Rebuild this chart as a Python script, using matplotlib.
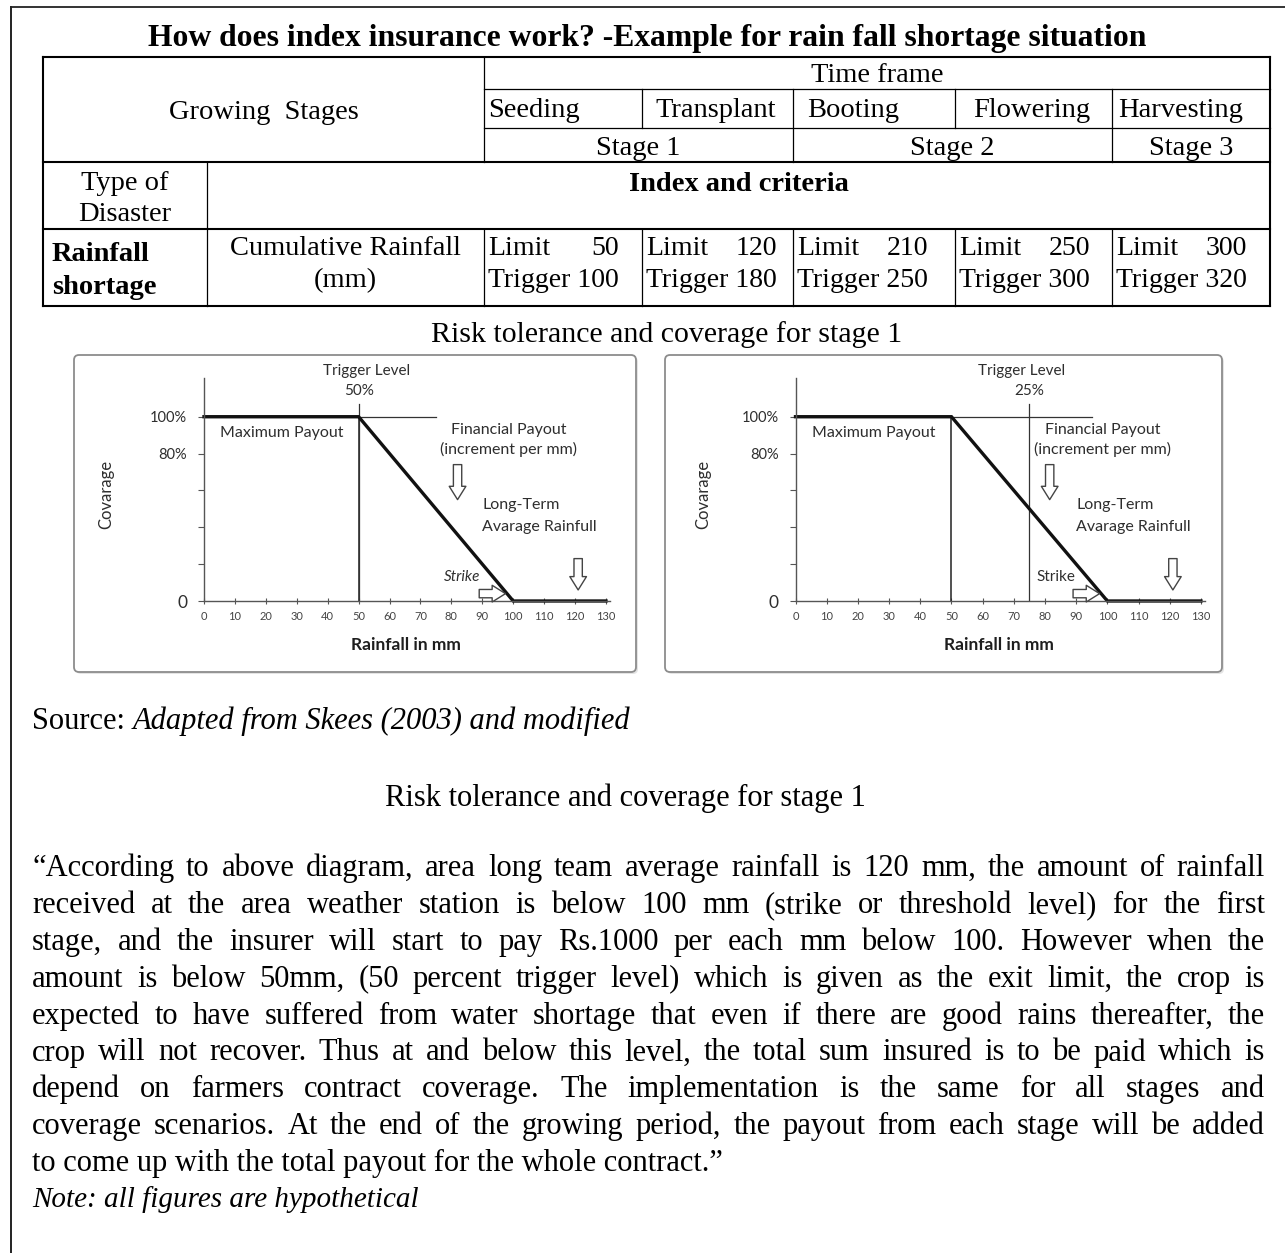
import matplotlib
matplotlib.use("Agg")
import matplotlib.pyplot as plt
from matplotlib.patches import FancyBboxPatch

W, H = 1285, 1253
SERIF = ["Liberation Serif", "DejaVu Serif"]
SANS = ["Lato", "DejaVu Sans"]

# ---- table content
title = "How does index insurance work? -Example for rain fall shortage situation"
stage_names = ["Seeding", "Transplant", "Booting", "Flowering", "Harvesting"]
stage_groups = ["Stage 1", "Stage 2", "Stage 3"]
group_cols = [(0, 2), (2, 4), (4, 5)]      # stage columns covered by each group
limits = [50, 120, 210, 250, 300]
triggers = [100, 180, 250, 300, 320]

# ---- chart content (rainfall in mm, coverage in %)
rain_mm = [0, 50, 100, 130]
coverage = [100, 100, 0, 0]
limit_mm = 50
trigger_mm = [50, 75]
trigger_label = ["50%", "25%"]
strike_mm = 100
long_term_mm = 121
x_ticks = list(range(0, 131, 10))
y_ticks = [0, 20, 40, 60, 80, 100]
y_ticklabels = ["0", "", "", "", "80%", "100%"]

paragraph = [
    "\u201cAccording to above diagram, area long team average rainfall is 120 mm, the amount of rainfall",
    "received at the area weather station is below 100 mm (strike or threshold level) for the first",
    "stage, and the insurer will start to pay Rs.1000 per each mm below 100. However when the",
    "amount is below 50mm, (50 percent trigger level) which is given as the exit limit, the crop is",
    "expected to have suffered from water shortage that even if there are good rains thereafter, the",
    "crop will not recover. Thus at and below this level, the total sum insured is to be paid which is",
    "depend on farmers contract coverage. The implementation is the same for all stages and",
    "coverage scenarios. At the end of the growing period, the payout from each stage will be added",
    "to come up with the total payout for the whole contract.\u201d",
]
note = "Note: all figures are hypothetical"

fig = plt.figure(figsize=(W / 100, H / 100), dpi=100)
page = fig.add_axes([0, 0, 1, 1])
page.set_xlim(0, W)
page.set_ylim(H, 0)
page.axis("off")
renderer = fig.canvas.get_renderer()


def line(x0, y0, x1, y1, lw=1.0, c="black"):
    page.plot([x0, x1], [y0, y1], color=c, lw=lw, solid_capstyle="projecting")


def txt(x, y, s, size=20.5, ha="center", **kw):
    # y is the visual middle of the line, text sits on its baseline
    return page.text(x, y + 9, s, ha=ha, va="baseline", fontsize=size,
                     family=SERIF, color="black", **kw)


def width(t):
    return t.get_window_extent(renderer).width


# page frame
line(11, 7, W, 7, lw=1.4, c="#333333")
line(11, 7, 11, H, lw=1.4, c="#222222")

txt(647, 37, title, size=22.8, weight="bold")

# ---- table grid
cols = [43, 207, 484, 642, 793, 955, 1112, 1270]
rows = [57, 89, 128, 162, 229, 306]
sc = cols[2:]
thick, thin = 1.5, 0.9
line(43, rows[0], 1270, rows[0], thick)
line(484, rows[1], 1270, rows[1], thin)
line(484, rows[2], 1270, rows[2], thin)
for r in rows[3:]:
    line(43, r, 1270, r, thick)
line(43, rows[0], 43, rows[5], thick)
line(1270, rows[0], 1270, rows[5], thick)
line(484, rows[0], 484, rows[3], thin)
line(207, rows[3], 207, rows[5], thin)
group_edges = [g[1] for g in group_cols]
for i in range(1, 5):
    bottom = rows[3] if i in group_edges else rows[2]
    line(sc[i], rows[1], sc[i], bottom, thin)
for x in cols[2:-1]:
    line(x, rows[4], x, rows[5], thin)

txt((cols[0] + cols[2]) / 2, 110, "Growing  Stages")
txt((sc[0] + sc[-1]) / 2, 73, "Time frame")
name_align = ["left", "center", "left", "center", "left"]
name_pad = [4, 0, 14, 0, 6]
for i, name in enumerate(stage_names):
    if name_align[i] == "left":
        txt(sc[i] + name_pad[i], 108, name, ha="left")
    else:
        txt((sc[i] + sc[i + 1]) / 2 - 2, 108, name)
for g, (a, b) in zip(stage_groups, group_cols):
    txt((sc[a] + sc[b]) / 2, 146, g)

txt((cols[0] + cols[1]) / 2, 181, "Type of")
txt((cols[0] + cols[1]) / 2, 212, "Disaster")
txt((cols[1] + cols[-1]) / 2, 182, "Index and criteria", weight="bold")
txt(cols[0] + 9, 252, "Rainfall", ha="left", weight="bold")
txt(cols[0] + 9, 285, "shortage", ha="left", weight="bold")
txt((cols[1] + cols[2]) / 2, 246, "Cumulative Rainfall")
txt((cols[1] + cols[2]) / 2, 278, "(mm)")
for i, (lim, trg) in enumerate(zip(limits, triggers)):
    x0 = sc[i] + 4
    t = txt(x0, 278, f"Trigger {trg}", ha="left", size=20)
    txt(x0, 246, "Limit", ha="left", size=20)
    txt(x0 + width(t), 246, str(lim), ha="right", size=20)

txt(667, 333, "Risk tolerance and coverage for stage 1", size=21.5)

# ---- the two coverage charts
boxes = [(74, 355, 636, 672), (665, 355, 1222, 672)]
plot_px = [(204, 378, 610, 601), (795.5, 378, 1205, 601)]
hline_end = [75, 95]
trig_title_x = [52.5, 72.5]
ylabel_x = [-31.5, -29.5]
ink = "#2e2e2e"
arrow = dict(arrowstyle="simple,head_length=0.8,head_width=1.0,tail_width=0.5",
             fc="white", ec="#444444", lw=1.0, shrinkA=0, shrinkB=0,
             mutation_scale=12)

for k in range(2):
    bx0, by0, bx1, by1 = boxes[k]
    page.add_patch(FancyBboxPatch((bx0 + 2, by0 + 2), bx1 - bx0, by1 - by0,
                                  boxstyle="round,pad=0,rounding_size=5",
                                  fc="#e4e4e4", ec="none"))
    page.add_patch(FancyBboxPatch((bx0, by0), bx1 - bx0, by1 - by0,
                                  boxstyle="round,pad=0,rounding_size=5",
                                  fc="white", ec="#8c8c8c", lw=1.3))
    x0, y0, x1, y1 = plot_px[k]
    ax = fig.add_axes([x0 / W, 1 - y1 / H, (x1 - x0) / W, (y1 - y0) / H])
    ax.set_xlim(0, 131.3)
    ax.set_ylim(0, 121)
    ax.patch.set_alpha(0)
    for s in ["top", "right"]:
        ax.spines[s].set_visible(False)
    for s in ["left", "bottom"]:
        ax.spines[s].set_color("#555555")
        ax.spines[s].set_linewidth(1.0)
    ax.set_xticks(x_ticks)
    ax.set_xticklabels([str(v) for v in x_ticks], fontsize=8,
                       family=SANS, color="#444444")
    ax.tick_params(axis="x", direction="inout", length=5, width=0.8,
                   color="#555555", pad=5)
    ax.set_yticks(y_ticks)
    ax.set_yticklabels(y_ticklabels, fontsize=10.5, family=SANS, color=ink)
    ax.get_yticklabels()[0].set_fontsize(12.5)
    ax.tick_params(axis="y", direction="out", length=4, width=0.8,
                   color="#555555", pad=8)

    trig = trigger_mm[k]
    ax.plot([0, hline_end[k]], [100, 100], color="#333333", lw=0.9)
    ax.plot([limit_mm, limit_mm], [0, 100], color="#222222", lw=1.1)
    ax.plot([trig, trig], [0, 107], color="#333333", lw=0.9)
    ax.plot(rain_mm, coverage, color="#111111", lw=2.4,
            solid_joinstyle="miter", clip_on=False)

    tk = dict(fontsize=11.5, family=SANS, color=ink, va="center")
    ax.text(trig_title_x[k], 125, "Trigger Level", ha="center",
            **dict(tk, fontsize=11))
    ax.text(trig, 114, trigger_label[k], ha="center", **dict(tk, fontsize=11))
    ax.text(25, 91, "Maximum Payout", ha="center", **tk)
    ax.text(98.5, 93, "Financial Payout", ha="center", **tk)
    ax.text(98.5, 82, "(increment per mm)", ha="center", **tk)
    ax.text(90, 52, "Long-Term", ha="left", **tk)
    ax.text(90, 40, "Avarage Rainfull", ha="left", **tk)
    ax.text(strike_mm - 16.5, 13, "Strike", ha="center",
            style="italic" if k == 0 else "normal", **dict(tk, fontsize=11))
    ax.text(65.3, -24, "Rainfall in mm", ha="center", fontsize=12.5,
            family=SANS, color="#1e1e1e", weight="bold", va="center")
    ax.text(ylabel_x[k], 58, "Covarage", ha="center", rotation=90,
            fontsize=12, family=SANS, color=ink, va="center")

    ax.annotate("", xy=(82 - 0.5 * k, 55), xytext=(82 - 0.5 * k, 74),
                arrowprops=arrow, annotation_clip=False)
    ax.annotate("", xy=(long_term_mm, 6), xytext=(long_term_mm, 23),
                arrowprops=arrow, annotation_clip=False)
    ax.annotate("", xy=(strike_mm - 2.5, 4), xytext=(strike_mm - 11, 4),
                arrowprops=arrow, annotation_clip=False)

# ---- text below the charts
BODY = 22
t = txt(32, 720, "Source: ", size=BODY, ha="left")
txt(32 + width(t), 720, "Adapted from Skees (2003) and modified", size=BODY,
    ha="left", style="italic")
txt(625, 797, "Risk tolerance and coverage for stage 1", size=BODY)

left, right = 32, 1265
for i, ln in enumerate(paragraph):
    y = 867 + 36.9 * i
    if i == len(paragraph) - 1:
        txt(left, y, ln, size=BODY, ha="left")
        continue
    words = [txt(0, y, w, size=BODY, ha="left") for w in ln.split()]
    ws = [width(w) for w in words]
    gap = (right - left - sum(ws)) / (len(words) - 1)
    x = left
    for w, wd in zip(words, ws):
        w.set_x(x)
        x += wd + gap
txt(left, 1198, note, size=21, ha="left", style="italic")

fig.savefig("out.png", dpi=100)
